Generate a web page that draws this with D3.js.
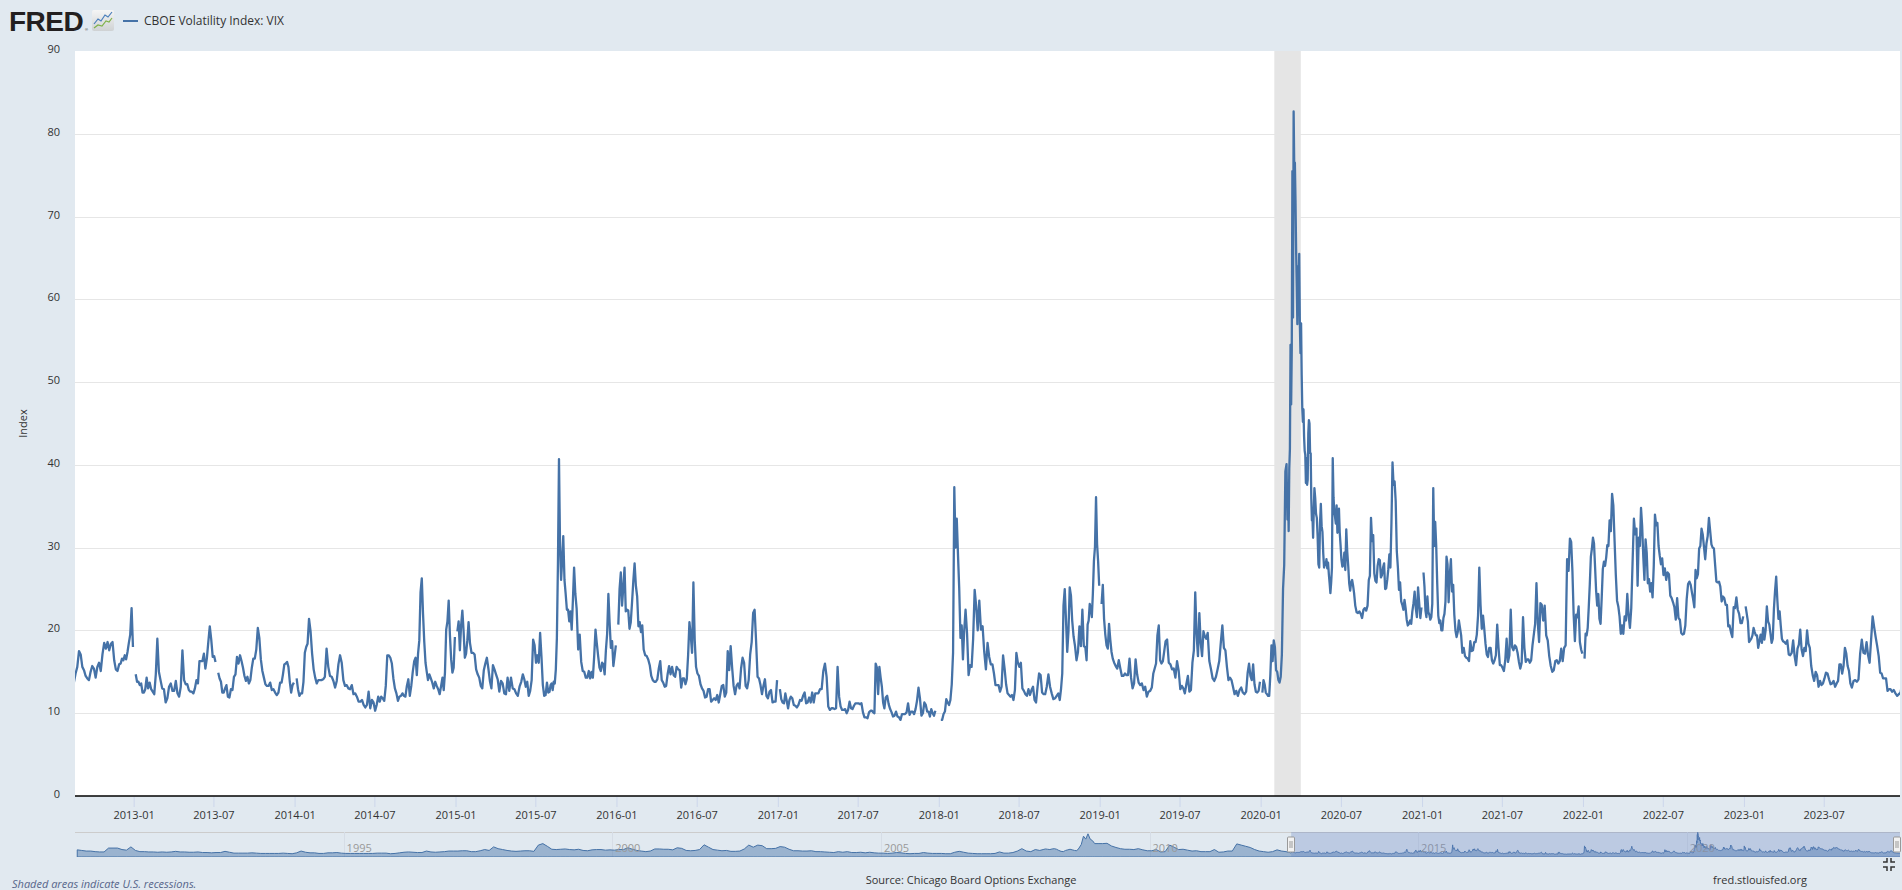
<!DOCTYPE html>
<html lang="en">
<head>
<meta charset="UTF-8">
<title>CBOE Volatility Index: VIX</title>
<script src="https://d3js.org/d3.v7.min.js"></script>
<style>
  html, body { margin: 0; padding: 0; background: #e1e9f0; overflow: hidden; }
  svg { display: block; font-family: "Open Sans", sans-serif; }
</style>
</head>
<body>
<svg id="chart" width="1902" height="890"></svg>
<script>
// ---------- data ----------
const yTicks = [0, 10, 20, 30, 40, 50, 60, 70, 80, 90];
const xTickLabels = ["2013-01", "2013-07", "2014-01", "2014-07", "2015-01", "2015-07", "2016-01", "2016-07",
  "2017-01", "2017-07", "2018-01", "2018-07", "2019-01", "2019-07", "2020-01", "2020-07",
  "2021-01", "2021-07", "2022-01", "2022-07", "2023-01", "2023-07"];
const navTickLabels = ["1995", "2000", "2005", "2010", "2015", "2020"];
const recessions = [["2020-02-01", "2020-04-01"]];
const viewRange = ["2012-08-21", "2023-12-21"];
const navRange = ["1990-01-01", "2023-12-21"];

// VIX, one array per month (values spread through the month), Aug 2012 onward; null = missing day
const vix2012 = [
  [16.0, 15.4, 14.9, 14.2, 13.7, 14.8, 15.6, 17.5],
  [17.1, 15.6, 15.2, 14.5, 14.2, 14.0, 15.0, 15.7],
  [15.4, 14.3, 15.6, 16.1, 15.1, 17.1, 18.5, 17.8],
  [18.6, 17.6, 18.4, 18.6, 16.4, 15.3, 15.1, 15.9],
  [16.0, 16.6, 16.4, 17.0, 16.5, 17.4, 18.5, 19.5, 22.7, 18.0]
];
const vix2013 = [
  [null, 14.7, 13.8, 13.8, 13.4, 13.6, 12.5, 12.5, 12.9, 14.3],
  [13.0, 13.7, 12.9, 12.6, 12.3, 14.7, 19.0, 15.0],
  [14.0, 13.0, 12.9, 11.3, 11.8, 13.2, 13.6, 12.7],
  [12.7, 13.9, 12.4, 12.0, 13.2, 17.6, 14.0, 13.5],
  [13.5, 12.8, 12.6, 12.6, 12.4, 13.0, 14.0, 13.6, 16.3],
  [16.3, 16.3, 17.2, 15.4, 16.6, 18.6, 20.5, 18.9, 16.8],
  [16.9, 16.2, null, 14.9, 14.2, 13.8, 12.5, 12.5, 13.0, 13.4],
  [12.0, 11.9, 12.9, 12.8, 14.4, 14.7, 16.8, 16.0, 17.0],
  [16.3, 15.5, 14.5, 13.9, 14.4, 13.6, 14.0, 15.5, 16.6],
  [16.6, 17.7, 20.3, 19.1, 16.5, 15.1, 14.3, 13.5, 13.3],
  [13.3, 13.7, 12.8, 12.9, 12.5, 12.2, 12.5, 13.7],
  [13.7, 14.7, 15.9, 16.0, 16.2, 15.6, 13.8, 12.5, 13.4, 13.7]
];
const vix2014 = [
  [null, 14.2, 12.9, 12.1, 12.4, 12.4, 13.8, 17.3, 18.0, 18.4],
  [21.4, 19.9, 17.2, 15.3, 14.3, 13.6, 14.0, 14.0],
  [14.0, 14.1, 14.4, 17.8, 15.6, 14.5, 14.4, 13.9],
  [13.1, 13.9, 15.9, 17.0, 16.1, 14.0, 13.3, 13.4],
  [13.0, 12.9, 13.4, 12.3, 12.4, 12.0, 11.4, 11.4],
  [11.6, 11.0, 10.7, 11.0, 12.6, 10.6, 11.6, 11.3],
  [10.3, 11.0, 12.0, 11.4, 12.0, 11.8, 11.5, 13.3, 17.0],
  [17.0, 16.7, 16.0, 14.2, 13.0, 12.4, 11.5, 12.0, 12.1],
  [12.4, 12.1, 12.0, 13.3, 14.1, 12.1, 13.3, 15.0, 16.3],
  [16.7, 14.6, 17.2, 18.8, 24.6, 26.3, 22.0, 18.6, 16.1, 15.0, 14.0],
  [14.7, 14.2, 13.7, 13.0, 13.8, 13.3, 12.9, 12.3, 13.3],
  [14.3, 12.8, 14.9, 20.1, 21.1, 23.6, 19.4, 16.5, 14.9, 15.5, 19.2]
];
const vix2015 = [
  [null, 19.9, 21.1, 17.6, 20.6, 22.4, 19.9, 16.7, 17.2, 18.8, 21.0],
  [18.5, 17.3, 17.3, 17.1, 15.3, 14.7, 14.3, 13.3],
  [13.0, 15.2, 16.0, 16.7, 15.4, 13.9, 13.0, 15.8, 15.3],
  [14.7, 14.1, 12.6, 13.9, 13.6, 12.4, 12.3, 14.3],
  [12.7, 14.3, 13.0, 12.9, 12.4, 12.1, 13.2, 13.8],
  [14.7, 14.1, 13.2, 13.8, 12.1, 12.7, 14.0, 18.9, 18.2],
  [16.1, 17.0, 16.1, 19.7, 16.8, 13.4, 12.1, 12.2, 13.7, 12.5],
  [12.6, 13.4, 13.6, 12.8, 13.8, 13.6, 15.3, 19.1, 28.0, 40.7, 30.3, 26.1, 28.4],
  [31.4, 26.1, 24.4, 22.5, 22.5, 21.1, 22.3, 20.1, 23.6, 27.6, 24.5],
  [22.6, 17.7, 19.5, 16.2, 15.1, 15.0, 14.3, 14.3, 15.1],
  [14.2, 15.0, 14.3, 16.9, 20.1, 18.4, 16.9, 15.5, 15.1, 16.1],
  [15.9, 14.7, 17.6, 19.6, 24.4, 20.9, 17.9, 18.7, 15.7, 16.9, 18.2]
];
const vix2016 = [
  [null, 20.7, 25.0, 27.0, 23.0, 25.2, 27.6, 22.3, 22.5, 22.4, 20.2],
  [21.0, 23.4, 26.0, 28.1, 25.4, 24.1, 20.5, 21.0, 19.8, 20.6],
  [17.7, 17.0, 16.9, 16.5, 15.8, 14.5, 14.0, 13.8, 13.8],
  [14.1, 15.4, 16.3, 14.0, 13.7, 13.2, 13.3, 14.7, 15.7],
  [14.7, 15.6, 14.6, 14.4, 15.6, 15.3, 15.2, 13.1, 14.2],
  [14.2, 13.5, 14.1, 17.0, 21.0, 19.4, 17.3, 25.8, 18.8, 15.6],
  [14.8, 14.5, 13.5, 13.0, 12.7, 11.9, 12.0, 12.9, 12.9],
  [11.4, 11.6, 11.8, 11.6, 12.2, 11.3, 12.3, 13.3, 13.4],
  [12.0, 12.5, 17.5, 15.2, 18.1, 15.5, 13.3, 12.3, 13.3],
  [13.6, 13.0, 15.4, 16.7, 16.1, 13.3, 13.0, 14.0, 17.1],
  [18.6, 22.1, 22.5, 18.7, 14.4, 14.2, 13.4, 12.3, 13.3],
  [14.1, 12.1, 11.8, 12.6, 12.8, 11.3, 11.4, 11.4, 14.0]
];
const vix2017 = [
  [null, 12.9, 11.7, 11.3, 11.2, 12.4, 11.5, 10.6, 11.6, 12.0],
  [11.8, 11.0, 10.9, 10.7, 11.0, 11.6, 11.5, 12.1],
  [12.5, 11.2, 11.3, 11.9, 11.3, 12.5, 11.3, 12.4, 12.4],
  [12.4, 12.9, 12.9, 15.1, 16.0, 14.4, 10.8, 10.4],
  [10.6, 10.6, 10.5, 10.6, 15.6, 12.0, 10.8, 10.4, 10.4],
  [10.5, 10.0, 10.4, 11.4, 10.6, 10.5, 10.9, 11.2, 11.2],
  [11.2, 11.1, 11.2, 10.1, 9.5, 9.5, 9.4, 10.1, 10.3],
  [10.3, 10.1, 10.0, 16.0, 15.5, 12.3, 15.6, 14.3, 13.2, 11.3, 10.6],
  [11.9, 12.1, 11.1, 10.5, 10.1, 9.6, 9.7, 10.2, 9.6],
  [9.5, 9.2, 9.9, 9.9, 9.9, 10.1, 11.2, 9.8, 10.2],
  [10.2, 9.9, 10.5, 11.5, 13.1, 11.8, 9.7, 10.0, 11.3],
  [11.0, 10.2, 10.2, 9.6, 10.5, 10.0, 9.7, 10.3, null, 11.0]
];
const vix2018 = [
  [null, 9.2, 9.2, 9.9, 10.2, 11.7, 11.3, 11.0, 11.6, 13.5],
  [17.3, 37.3, 30.0, 33.5, 29.1, 25.0, 19.1, 20.6, 16.5, 19.9],
  [22.5, 19.6, 14.6, 15.8, 15.6, 19.0, 24.9, 22.9, 20.0],
  [23.6, 20.1, 20.5, 17.4, 15.3, 18.5, 16.8, 15.9],
  [15.9, 14.8, 13.4, 13.4, 13.4, 12.6, 13.2, 17.0, 15.4],
  [13.5, 12.4, 12.2, 12.0, 12.2, 11.6, 12.8, 17.3, 16.1],
  [15.6, 16.1, 13.0, 12.7, 12.3, 12.1, 12.9, 12.2, 12.8],
  [13.2, 11.6, 11.3, 13.2, 14.8, 14.6, 12.5, 12.3, 12.3],
  [13.2, 14.7, 13.2, 12.4, 11.7, 11.8, 12.1, 12.4],
  [11.6, 12.9, 14.8, 23.0, 25.0, 21.3, 17.4, 19.9, 25.2, 24.2, 21.2],
  [19.3, 18.1, 16.4, 17.4, 20.5, 18.1, 22.5, 18.1, 18.0],
  [16.4, 20.7, 21.2, 23.2, 22.6, 21.6, 24.5, 28.4, 30.1, 36.1, 30.4, 28.3, 25.4]
];
const vix2019 = [
  [null, 23.2, 25.5, 21.4, 19.5, 18.2, 17.8, 20.8, 18.9, 17.4, 16.6],
  [16.1, 15.7, 15.4, 16.4, 15.4, 14.5, 14.5, 14.8],
  [14.6, 14.6, 16.6, 14.3, 13.0, 13.6, 16.5, 14.7, 13.7],
  [13.4, 13.6, 12.8, 13.2, 12.0, 12.6, 12.7, 13.1],
  [14.8, 15.4, 16.0, 19.4, 20.6, 16.4, 16.0, 16.3, 17.5, 18.7],
  [18.9, 16.1, 15.9, 15.3, 15.4, 14.3, 16.3, 15.1],
  [12.9, 13.3, 13.0, 12.4, 13.5, 14.5, 12.6, 12.8, 16.1],
  [17.6, 24.6, 19.5, 16.9, 22.1, 18.5, 16.9, 19.9, 19.3, 19.0],
  [19.7, 16.3, 15.3, 14.2, 13.9, 14.4, 15.3, 16.3],
  [18.6, 20.6, 17.9, 17.6, 15.6, 14.0, 14.3, 14.0, 13.2],
  [12.3, 12.7, 12.1, 12.8, 13.1, 12.5, 12.3, 12.6],
  [14.9, 16.0, 14.5, 14.0, 15.9, 13.5, 12.6, 12.5, 12.7, 13.8]
];
const vix2020 = [
  [null, 12.5, 14.0, 13.5, 12.5, 12.3, 12.1, 12.1, 14.6, 18.2, 16.3, 18.8],
  [18.0, 15.2, 15.0, 14.0, 13.7, 14.4, 17.1, 25.0, 27.9, 39.2, 40.1],
  [33.4, 36.8, 32.0, 39.6, 41.9, 54.5, 47.3, 53.9, 75.5, 57.8, 82.7, 75.9, 76.5, 72.0, 66.0, 61.6, 57.0, 64.0, 61.0, 65.5, 57.1, 53.5],
  [57.1, 50.9, 46.8, 45.2, 46.7, 43.4, 41.7, 41.2, 37.8, 40.8, 37.6, 38.2, 43.8, 45.4, 45.0, 41.4, 41.4, 35.9, 33.3, 33.6, 31.2, 34.2],
  [37.2, 36.0, 34.1, 33.6, 31.4, 28.0, 27.6, 33.0, 35.3, 32.6, 31.9, 29.3, 27.6, 28.2, 27.9, 28.6, 27.5],
  [28.2, 26.8, 25.7, 24.5, 25.8, 27.6, 40.8, 36.1, 34.4, 33.7, 32.9, 35.1, 31.8, 33.8, 34.7, 31.8, 30.4],
  [28.6, 27.7, 27.9, 29.4, 27.3, 32.2, 29.5, 27.8, 25.7, 24.8, 25.8, 26.1, 25.4, 24.5],
  [23.0, 22.2, 22.1, 22.3, 22.0, 21.5, 22.5, 22.7, 22.4, 23.0],
  [26.1, 26.6, 33.6, 30.8, 31.5, 26.9, 26.0, 25.8, 27.8, 28.6, 28.5, 26.4],
  [26.7, 27.6, 28.1, 25.0, 25.1, 26.1, 27.4, 29.2, 27.6, 33.0, 40.3, 37.6, 38.0],
  [35.6, 29.6, 27.6, 24.9, 25.8, 23.5, 23.1, 22.5, 23.7, 22.7, 21.3, 20.6],
  [20.8, 21.2, 20.8, 22.3, 23.3, 24.7, 22.7, 21.6, 25.2, 23.3, 21.5, 22.8]
];
const vix2021 = [
  [null, 27.0, 25.3, 22.4, 21.6, 24.1, 22.2, 21.9, 21.3, 21.6, 23.2, 37.2, 30.2, 33.1],
  [30.2, 25.6, 21.8, 20.9, 21.2, 20.0, 20.0, 21.5, 22.0, 23.5, 28.9, 28.0],
  [23.4, 26.7, 28.6, 24.7, 25.5, 21.9, 20.0, 19.2, 19.8, 21.2, 20.3, 19.4],
  [17.3, 17.9, 16.9, 16.7, 16.6, 16.3, 18.7, 17.5, 17.6, 18.6],
  [18.6, 19.5, 21.8, 27.6, 23.1, 20.2, 21.8, 20.2, 18.4, 17.1, 16.8],
  [17.9, 17.9, 16.4, 16.0, 16.4, 17.0, 20.7, 17.9, 15.8, 15.8],
  [15.5, 15.1, 16.4, 19.0, 16.2, 17.0, 22.5, 18.0, 17.6, 18.2],
  [18.0, 17.3, 16.2, 15.4, 16.1, 21.6, 17.9, 16.2, 16.5, 16.5],
  [16.1, 16.4, 18.2, 19.5, 20.8, 25.7, 20.9, 18.6, 23.3, 23.1],
  [21.2, 23.0, 19.4, 18.8, 16.9, 15.7, 15.0, 15.2, 16.3],
  [16.4, 16.0, 16.3, 17.8, 16.3, 17.9, 18.2, 28.6, 27.2],
  [31.1, 30.7, 27.2, 21.9, 18.7, 21.9, 21.6, 22.9, 18.6, 17.7, 17.2]
];
const vix2022 = [
  [null, 16.6, 19.6, 19.4, 20.3, 22.8, 25.6, 28.9, 29.9, 31.2, 30.5, 27.7, 24.8],
  [23.0, 24.4, 21.4, 20.8, 23.9, 27.4, 28.3, 27.8, 28.8, 30.3, 30.2],
  [33.3, 32.0, 36.5, 35.1, 30.8, 26.7, 23.6, 22.9, 21.7, 19.6, 20.6],
  [19.6, 21.7, 21.2, 24.4, 21.8, 20.3, 22.7, 28.2, 33.5, 31.6],
  [32.3, 25.4, 31.2, 30.2, 34.8, 32.6, 28.9, 26.1, 31.0, 29.4, 25.7, 26.2],
  [24.7, 25.7, 24.0, 27.8, 34.0, 32.7, 33.0, 30.2, 29.0, 28.0, 28.7],
  [26.7, 27.5, 26.1, 27.0, 26.8, 24.2, 23.9, 23.4, 22.8, 21.3],
  [23.9, 21.5, 21.3, 19.7, 19.5, 19.6, 20.6, 23.8, 25.6, 25.9],
  [25.5, 24.6, 23.8, 22.8, 27.3, 26.3, 26.8, 29.9, 30.2, 32.3, 31.6],
  [30.1, 28.6, 30.5, 31.4, 33.6, 32.0, 30.4, 30.0, 29.9, 27.9, 25.9],
  [25.8, 25.9, 25.3, 23.5, 24.1, 23.9, 23.1, 23.1, 20.5, 20.6],
  [19.8, 19.2, 22.8, 22.7, 24.0, 22.5, 22.0, 20.9, 20.9, 21.7]
];
const vix2023 = [
  [null, 22.9, 22.0, 21.1, 18.6, 18.8, 19.0, 19.4, 20.3, 19.8, 19.4, 19.4],
  [17.9, 18.7, 19.5, 18.5, 20.3, 18.9, 20.0, 22.9, 21.1, 20.7],
  [19.6, 18.5, 19.0, 22.6, 24.8, 26.5, 23.7, 21.4, 22.3, 20.6, 19.0, 18.7],
  [18.6, 18.4, 18.8, 17.1, 17.0, 17.3, 18.8, 16.9, 15.8],
  [17.8, 18.3, 20.1, 17.7, 16.9, 17.9, 17.5, 20.0, 18.4, 17.9],
  [15.7, 14.6, 13.9, 15.0, 14.6, 13.2, 13.9, 13.4, 13.6],
  [14.2, 14.9, 14.8, 14.1, 13.5, 13.6, 13.9, 13.2, 13.6],
  [13.9, 15.9, 15.9, 14.8, 15.7, 17.9, 17.2, 15.7, 15.1, 13.6],
  [13.1, 13.9, 14.0, 13.8, 14.1, 17.2, 18.9, 17.3],
  [17.2, 18.6, 17.0, 16.1, 18.9, 21.7, 20.4, 19.2, 18.1],
  [16.9, 14.9, 14.8, 14.2, 14.2, 14.2, 12.7, 12.9, 12.9],
  [12.6, 12.8, 12.4, 12.1, 12.3, 12.5, 13.7, 12.5]
];

// navigator history before the main window, values spread through each year
const nav1990 = [24, 22, 20, 20, 18, 17, 17, 30, 30, 30, 25, 23];
const nav1991 = [34, 22, 18, 18, 17, 17, 16, 17, 16, 17, 19, 17];
const nav1992 = [17, 16, 16, 17, 15, 15, 14, 15, 15, 19, 16, 13];
const nav1993 = [13, 13, 13, 14, 13, 12, 12, 12, 12, 12, 13, 12];
const nav1994 = [11, 14, 20, 16, 14, 14, 12, 12, 14, 14, 15, 13];
const nav1995 = [12, 12, 12, 12, 12, 12, 12, 13, 13, 13, 11, 12];
const nav1996 = [14, 16, 17, 16, 15, 15, 20, 17, 16, 17, 18, 20];
const nav1997 = [20, 20, 21, 21, 18, 18, 21, 25, 22, 34, 28, 25];
const nav1998 = [22, 20, 19, 20, 21, 21, 19, 40, 45, 36, 26, 25];
const nav1999 = [26, 27, 25, 24, 26, 22, 21, 24, 25, 25, 23, 24];
const nav2000 = [23, 25, 25, 31, 26, 22, 20, 18, 20, 27, 27, 26];
const nav2001 = [26, 24, 31, 29, 22, 21, 22, 25, 41, 33, 25, 23];
const nav2002 = [21, 22, 19, 19, 20, 27, 40, 33, 40, 38, 28, 28];
const nav2003 = [29, 35, 33, 26, 21, 21, 20, 20, 21, 18, 18, 17];
const nav2004 = [16, 15, 18, 16, 18, 15, 15, 16, 14, 16, 14, 13];
const nav2005 = [13, 12, 13, 15, 14, 12, 11, 12, 12, 15, 13, 12];
const nav2006 = [12, 12, 11, 11, 16, 19, 16, 13, 12, 11, 11, 11];
const nav2007 = [11, 12, 17, 13, 13, 15, 20, 28, 20, 18, 25, 22];
const nav2008 = [25, 27, 26, 25, 27, 28, 26, 22, 19, 18, 22, 24, 26, 24, 22, 21, 30, 42, 70, 60, 78, 60, 55, 45];
const nav2009 = [45, 45, 46, 37, 32, 28, 26, 26, 25, 28, 24, 21];
const nav2010 = [21, 25, 17, 18, 40, 33, 25, 26, 23, 20, 21, 18];
const nav2011 = [18, 18, 25, 16, 17, 20, 20, 44, 40, 36, 32, 25];
const nav2012 = [20, 18, 16, 18, 24, 20, 18]; // Jan-Jul

// ---------- layout ----------
const plot = { left: 75, right: 1900, top: 51, bottom: 796 };
const nav = { top: 832, bottom: 857 };
const lineColor = "#4572a7";
const font = "'Open Sans', sans-serif";

const parseDay = d3.timeParse("%Y-%m-%d");
const parseMonth = d3.timeParse("%Y-%m");

// build main series: each month's values are spread evenly across that month
const mainPoints = [];
[vix2012, vix2013, vix2014, vix2015, vix2016, vix2017, vix2018, vix2019,
 vix2020, vix2021, vix2022, vix2023].flat(1).forEach((vals, k) => {
  const m0 = new Date(2012, 7 + k, 1), m1 = new Date(2012, 8 + k, 1);
  vals.forEach((v, i) => {
    mainPoints.push({ date: new Date(+m0 + (i + 0.5) / vals.length * (m1 - m0)), value: v });
  });
});

const navPoints = [];
const navHist = [[1990, nav1990], [1991, nav1991], [1992, nav1992], [1993, nav1993], [1994, nav1994],
  [1995, nav1995], [1996, nav1996], [1997, nav1997], [1998, nav1998], [1999, nav1999], [2000, nav2000],
  [2001, nav2001], [2002, nav2002], [2003, nav2003], [2004, nav2004], [2005, nav2005], [2006, nav2006],
  [2007, nav2007], [2008, nav2008], [2009, nav2009], [2010, nav2010], [2011, nav2011], [2012, nav2012]];
navHist.forEach(([yr, vals]) => {
  const span = yr === 2012 ? 7 : 12;
  const t0 = new Date(yr, 0, 1), t1 = new Date(yr, span, 1);
  vals.forEach((v, i) => navPoints.push({ date: new Date(+t0 + (i + 0.5) / vals.length * (t1 - t0)), value: v }));
});
mainPoints.filter(d => d.value != null).forEach(d => navPoints.push(d));

// ---------- scales ----------
const x = d3.scaleTime().domain(viewRange.map(parseDay)).range([plot.left, plot.right]);
const y = d3.scaleLinear().domain([0, 90]).range([plot.bottom, plot.top]);
const xNav = d3.scaleTime().domain(navRange.map(parseDay)).range([plot.left, plot.right]);
const yNav = d3.scaleLinear().domain([0, 84]).range([nav.bottom, nav.top]);

const svg = d3.select("#chart");
const defs = svg.append("defs");
defs.append("clipPath").attr("id", "plotClip").append("rect")
  .attr("x", plot.left).attr("y", plot.top)
  .attr("width", plot.right - plot.left).attr("height", plot.bottom - plot.top);
defs.append("clipPath").attr("id", "navClip").append("rect")
  .attr("x", plot.left).attr("y", nav.top - 2)
  .attr("width", plot.right - plot.left).attr("height", nav.bottom - nav.top + 2);

svg.append("rect").attr("width", 1902).attr("height", 890).attr("fill", "#e1e9f0");

// plot background
svg.append("rect")
  .attr("x", plot.left).attr("y", plot.top)
  .attr("width", plot.right - plot.left).attr("height", plot.bottom - plot.top)
  .attr("fill", "#ffffff");

// gridlines
svg.append("g").selectAll("line")
  .data(yTicks.filter(v => v > 0 && v < 90))
  .join("line")
  .attr("x1", plot.left).attr("x2", plot.right)
  .attr("y1", d => Math.round(y(d)) + 0.5).attr("y2", d => Math.round(y(d)) + 0.5)
  .attr("stroke", "#e6e6e6").attr("stroke-width", 1);

// recession shading
svg.append("g").selectAll("rect")
  .data(recessions)
  .join("rect")
  .attr("x", d => x(parseDay(d[0])))
  .attr("width", d => x(parseDay(d[1])) - x(parseDay(d[0])))
  .attr("y", plot.top).attr("height", plot.bottom - plot.top)
  .attr("fill", "#e5e5e5");

// series line
const line = d3.line()
  .defined(d => d.value != null)
  .x(d => x(d.date))
  .y(d => y(d.value));
svg.append("path")
  .datum(mainPoints)
  .attr("clip-path", "url(#plotClip)")
  .attr("fill", "none")
  .attr("stroke", lineColor)
  .attr("stroke-width", 2.3)
  .attr("stroke-linejoin", "round")
  .attr("d", line);

// zero line
svg.append("line")
  .attr("x1", plot.left).attr("x2", plot.right)
  .attr("y1", y(0)).attr("y2", y(0))
  .attr("stroke", "#000").attr("stroke-width", 1.5);

// x axis
const xAxis = svg.append("g")
  .attr("transform", `translate(0,${plot.bottom + 1})`)
  .call(d3.axisBottom(x)
    .tickValues(xTickLabels.map(parseMonth))
    .tickFormat(d3.timeFormat("%Y-%m"))
    .tickSize(10).tickPadding(4));
xAxis.select(".domain").remove();
xAxis.selectAll(".tick line").attr("stroke", "#ccd6eb");
xAxis.attr("font-family", font).attr("font-size", 11);
xAxis.selectAll(".tick text").attr("fill", "#333");

// y labels
svg.append("g").selectAll("text")
  .data(yTicks)
  .join("text")
  .attr("x", 60).attr("y", d => y(d) + 2)
  .attr("text-anchor", "end")
  .attr("font-size", 11).attr("fill", "#333")
  .text(d => d);

svg.append("text")
  .attr("transform", `translate(27,${(plot.top + plot.bottom) / 2}) rotate(-90)`)
  .attr("text-anchor", "middle")
  .attr("font-size", 11).attr("fill", "#333")
  .text("Index");

// ---------- navigator ----------
const navG = svg.append("g");
navG.append("line")
  .attr("x1", plot.left).attr("x2", plot.right)
  .attr("y1", nav.top + 0.5).attr("y2", nav.top + 0.5)
  .attr("stroke", "#cccccc");
navG.append("g").selectAll("line")
  .data(navTickLabels)
  .join("line")
  .attr("x1", d => Math.round(xNav(parseDay(d + "-01-01"))) + 0.5)
  .attr("x2", d => Math.round(xNav(parseDay(d + "-01-01"))) + 0.5)
  .attr("y1", nav.top).attr("y2", nav.bottom)
  .attr("stroke", "#d6dde6");
const area = d3.area()
  .x(d => xNav(d.date))
  .y0(nav.bottom)
  .y1(d => yNav(d.value));
navG.append("path")
  .datum(navPoints)
  .attr("clip-path", "url(#navClip)")
  .attr("fill", "rgba(69,114,167,0.45)")
  .attr("stroke", lineColor)
  .attr("stroke-width", 1)
  .attr("d", area);
navG.append("g").selectAll("text")
  .data(navTickLabels)
  .join("text")
  .attr("x", d => xNav(parseDay(d + "-01-01")) + 3)
  .attr("y", nav.bottom - 5)
  .attr("font-size", 11).attr("fill", "#999")
  .text(d => d);

// selected window
const selX0 = xNav(parseDay(viewRange[0])), selX1 = xNav(parseDay(viewRange[1]));
navG.append("rect")
  .attr("x", selX0).attr("y", nav.top)
  .attr("width", selX1 - selX0).attr("height", nav.bottom - nav.top)
  .attr("fill", "rgba(102,133,194,0.3)");
[selX0, selX1 - 3].forEach(hx => {
  const h = navG.append("g").attr("transform", `translate(${Math.round(hx) - 3.5},${(nav.top + nav.bottom) / 2 - 7.5})`);
  h.append("rect").attr("width", 7).attr("height", 15).attr("rx", 1)
    .attr("fill", "#f2f2f2").attr("stroke", "#999");
  h.append("path").attr("d", "M2.5,4V11M4.5,4V11").attr("stroke", "#999");
});

// ---------- header ----------
svg.append("text")
  .attr("x", 9).attr("y", 31)
  .attr("font-family", "'Liberation Sans', Arial, sans-serif")
  .attr("font-weight", "bold").attr("font-size", 28)
  .attr("letter-spacing", -0.5)
  .attr("fill", "#231f20")
  .text("FRED");
svg.append("text")
  .attr("x", 85).attr("y", 31)
  .attr("font-family", "'Liberation Sans', Arial, sans-serif")
  .attr("font-size", 4).attr("fill", "#231f20")
  .text("®");
const grad = defs.append("linearGradient").attr("id", "iconGrad").attr("x1", 0).attr("y1", 0).attr("x2", 0).attr("y2", 1);
grad.append("stop").attr("offset", 0).attr("stop-color", "#f5f5f5");
grad.append("stop").attr("offset", 1).attr("stop-color", "#cfd2d4");
svg.append("rect").attr("x", 92).attr("y", 10).attr("width", 22).attr("height", 21).attr("rx", 2)
  .attr("fill", "url(#iconGrad)");
svg.append("path").attr("d", "M94,24L98,19L101,21L105,15L108,17L112,12")
  .attr("fill", "none").attr("stroke", "#4a7ebb").attr("stroke-width", 1.2);
svg.append("path").attr("d", "M94,28L98,25L102,26L106,21L109,22L112,18")
  .attr("fill", "none").attr("stroke", "#7fb24a").attr("stroke-width", 1.2);

svg.append("line")
  .attr("x1", 123).attr("x2", 138).attr("y1", 21).attr("y2", 21)
  .attr("stroke", lineColor).attr("stroke-width", 2);
svg.append("text")
  .attr("x", 144).attr("y", 25)
  .attr("font-size", 12).attr("fill", "#333")
  .text("CBOE Volatility Index: VIX");

// ---------- footer ----------
svg.append("text")
  .attr("x", 12).attr("y", 888)
  .attr("font-size", 11).attr("font-style", "italic").attr("fill", "#56658a")
  .text("Shaded areas indicate U.S. recessions.");
svg.append("text")
  .attr("x", 971).attr("y", 884)
  .attr("text-anchor", "middle")
  .attr("font-size", 11).attr("fill", "#333")
  .text("Source: Chicago Board Options Exchange");
svg.append("text")
  .attr("x", 1760).attr("y", 884)
  .attr("text-anchor", "middle")
  .attr("font-size", 11).attr("fill", "#333")
  .text("fred.stlouisfed.org");

// collapse icon
svg.append("path")
  .attr("d", "M1883,862H1887V858M1895,862H1891V858M1883,867H1887V871M1895,867H1891V871")
  .attr("fill", "none").attr("stroke", "#333").attr("stroke-width", 1.5);
</script>
</body>
</html>
